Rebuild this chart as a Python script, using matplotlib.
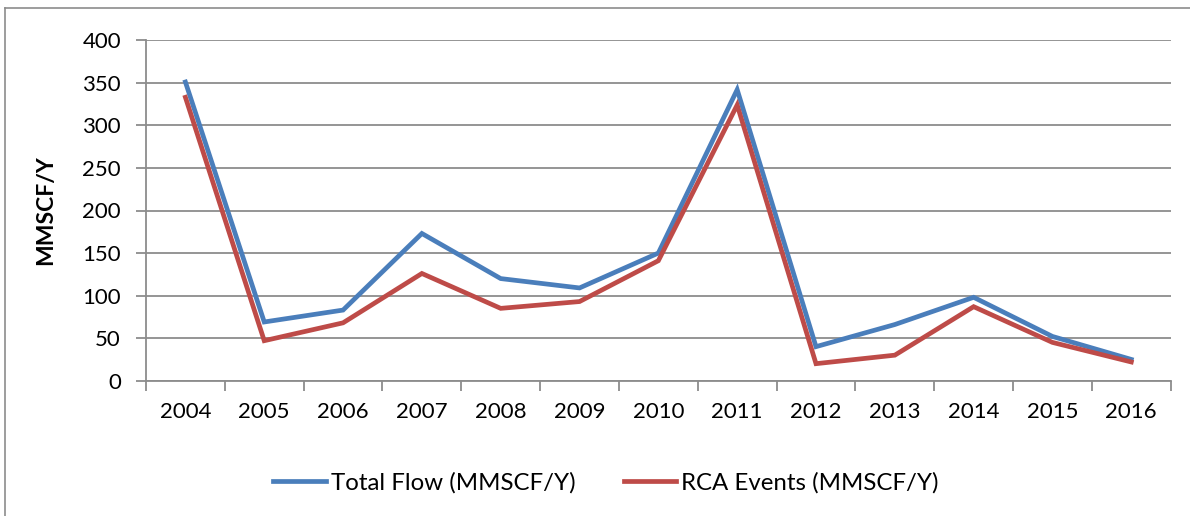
import numpy as np
import matplotlib.pyplot as plt
from matplotlib.lines import Line2D

years = ['2004', '2005', '2006', '2007', '2008', '2009', '2010',
         '2011', '2012', '2013', '2014', '2015', '2016']
total_flow = [351, 69, 83, 173, 120, 109, 150, 342, 40, 66, 98, 52, 25]
rca_events = [333, 47, 68, 126, 85, 93, 141, 324, 20, 30, 87, 45, 22]

plt.rcParams['font.family'] = ['Lato', 'DejaVu Sans']

W, H = 1190, 516
fig = plt.figure(figsize=(W / 100, H / 100), dpi=100)
ax = fig.add_axes([146 / W, 1 - 380.7 / H, (1170.7 - 146) / W, (380.7 - 40.3) / H])

x = np.arange(len(years))
ax.plot(x, total_flow, color='#4A7EBB', lw=3.4, label='Total Flow (MMSCF/Y)',
        solid_joinstyle='miter', clip_on=False)
ax.plot(x, rca_events, color='#BE4B48', lw=3.4, label='RCA Events (MMSCF/Y)',
        solid_joinstyle='miter', clip_on=False)

ax.set_xlim(-0.5, len(years) - 0.5)
ax.set_ylim(0, 400)
ax.set_yticks(range(0, 401, 50))
ax.set_xticks(x)
ax.set_xticklabels(years)
ax.set_xticks(np.arange(-0.5, len(years), 1), minor=True)

ax.grid(axis='y', color='#8C8C8C', lw=1.3)
ax.set_axisbelow(True)
for s in ['top', 'right']:
    ax.spines[s].set_visible(False)
for s in ['left', 'bottom']:
    ax.spines[s].set_color('#8C8C8C')
    ax.spines[s].set_linewidth(1.3)

ax.tick_params(axis='x', which='major', length=0, pad=15, labelsize=16)
ax.tick_params(axis='x', which='minor', length=7, width=1.3, color='#8C8C8C')
ax.tick_params(axis='y', length=7, width=1.3, color='#8C8C8C', pad=11, labelsize=16)

ax.set_ylabel('MMSCF/Y', fontsize=16.5, fontweight='bold', labelpad=19)

# legend sits under the whole figure, a bit left of the axes centre
fig.legend(*ax.get_legend_handles_labels(), loc='center',
           bbox_to_anchor=(606 / W, 1 - 483 / H),
           ncol=2, frameon=False, fontsize=17.3, handlelength=2.2,
           handletextpad=0.2, columnspacing=2.0)

# outer frame
fig.add_artist(Line2D([5 / W, 5 / W], [0, 1 - 8 / H], color='#8C8C8C', lw=1.2))
fig.add_artist(Line2D([5 / W, 1], [1 - 8 / H, 1 - 8 / H], color='#8C8C8C', lw=1.2))

fig.savefig('out.png', dpi=100)
